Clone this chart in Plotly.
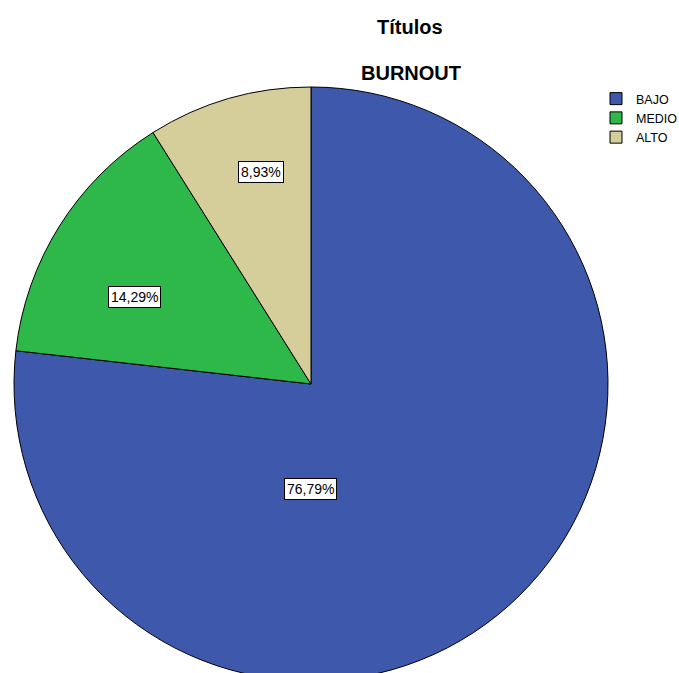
import plotly.graph_objects as go

# Data
categories = ["BAJO", "MEDIO", "ALTO"]
counts = [43, 8, 5]
colors = ["#3E58AC", "#2EB84A", "#D5CE9B"]

# label offsets in units of pie radius (relative to centre), per slice
label_offsets = [(-0.003, -0.354), (-0.594, 0.293), (-0.168, 0.714)]

W, H = 679, 681
L, T = 14, 87
D = 594  # pie diameter in px
R_m = W - L - D
FONT = "Liberation Sans, Arial"

def px_x(px):
    return (px - L) / D

def px_y(py):
    return (H - py) / D

total = sum(counts)
fig = go.Figure(go.Pie(
    labels=categories,
    values=counts,
    sort=False,
    direction="clockwise",
    rotation=0,
    marker=dict(colors=colors, line=dict(color="black", width=1)),
    textinfo="none",
    hoverinfo="label+percent",
    domain=dict(x=[0, 1], y=[0, 1]),
))

annotations = []
for c, v, (dx, dy) in zip(categories, counts, label_offsets):
    pct = f"{100 * v / total:.2f}".replace(".", ",") + "%"
    annotations.append(dict(
        x=0.5 + dx / 2, y=0.5 + dy / 2, xref="paper", yref="paper",
        xanchor="center", yanchor="middle",
        text=pct, showarrow=False,
        font=dict(family=FONT, size=14, color="black"),
        bgcolor="white", bordercolor="black", borderwidth=1, borderpad=2,
    ))

annotations.append(dict(x=px_x(410), y=px_y(27), xref="paper", yref="paper",
                        text="<b>Títulos</b>", showarrow=False,
                        xanchor="center", yanchor="middle",
                        font=dict(family=FONT, size=20, color="black")))
annotations.append(dict(x=px_x(411), y=px_y(73), xref="paper", yref="paper",
                        text="<b>BURNOUT</b>", showarrow=False,
                        xanchor="center", yanchor="middle",
                        font=dict(family=FONT, size=20, color="black")))

fig.update_layout(
    width=W, height=H,
    margin=dict(l=L, r=R_m, t=T, b=0, pad=0, autoexpand=False),
    paper_bgcolor="white", plot_bgcolor="white",
    showlegend=True,
    legend=dict(x=px_x(596), y=px_y(84), xref="paper", yref="paper",
                xanchor="left", yanchor="top",
                font=dict(family=FONT, size=12.5, color="black"),
                itemwidth=30, tracegroupgap=0, bgcolor="rgba(0,0,0,0)"),
    annotations=annotations,
)

fig.write_html("out.html", post_script="document.body.style.overflow='hidden';")
